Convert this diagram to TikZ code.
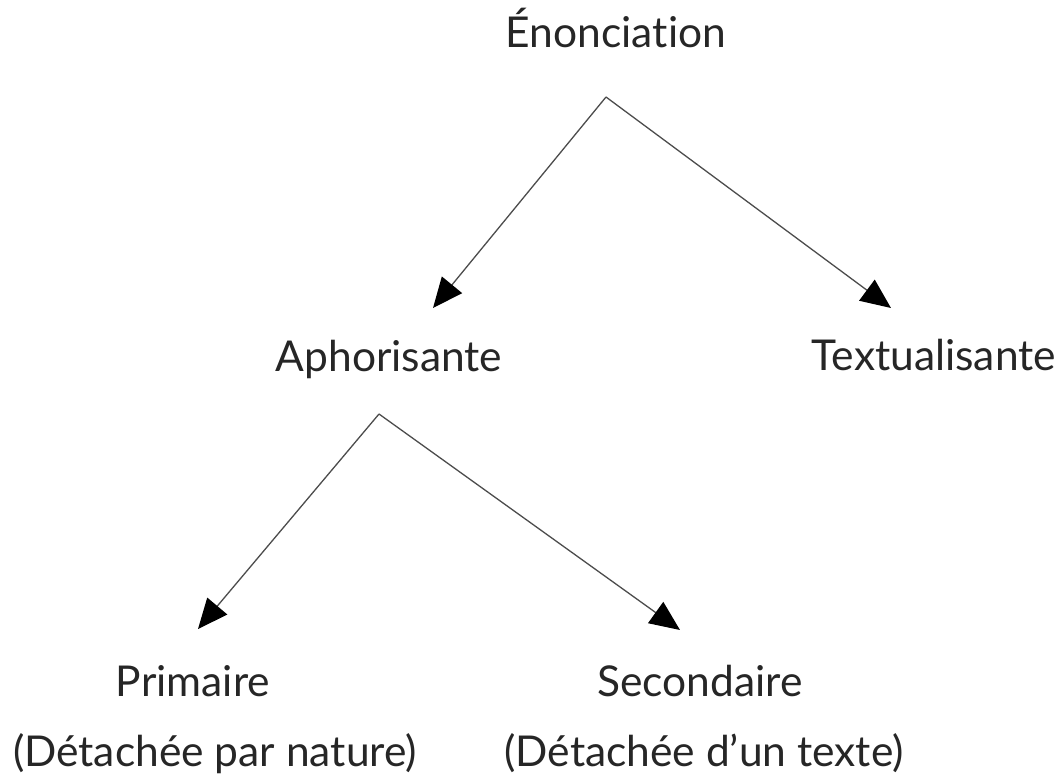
\documentclass[tikz,border=0pt]{standalone}
\usepackage{fontspec}
\setmainfont[Ligatures={NoCommon,NoDiscretionary,NoRare}]{Lato}
\usetikzlibrary{arrows.meta}
\begin{document}
\begin{tikzpicture}[x=1pt,y=-1pt,
  lbl/.style={inner sep=0pt,anchor=base,font=\fontsize{42.5}{48}\selectfont,text=black!85},
  conn/.style={draw=black!70,line width=1.3pt,-{Triangle[length=30pt,width=26pt,fill=black,color=black]}}]
\useasboundingbox (0,0) rectangle (1061,780);
\node[lbl] (en) at (616,47) {Énonciation};
\node[lbl] (aph) at (389,371) {Aphorisante};
\node[lbl] (tex) at (934,370) {Textualisante};
\node[lbl] (pri) at (193,696) {Primaire};
\node[lbl] (sec) at (700,696) {Secondaire};
\node[lbl] (prin) at (215,766) {(Détachée par nature)};
\node[lbl] (secn) at (704,766) {(Détachée d’un texte)};
\coordinate (a1) at (606,97);
\coordinate (t1) at (433,308);
\coordinate (t2) at (891,308);
\coordinate (a2) at (379,414);
\coordinate (t3) at (198,629);
\coordinate (t4) at (680,630);
\draw[conn] (a1) -- (t1);
\draw[conn] (a1) -- (t2);
\draw[conn] (a2) -- (t3);
\draw[conn] (a2) -- (t4);
\end{tikzpicture}
\end{document}
